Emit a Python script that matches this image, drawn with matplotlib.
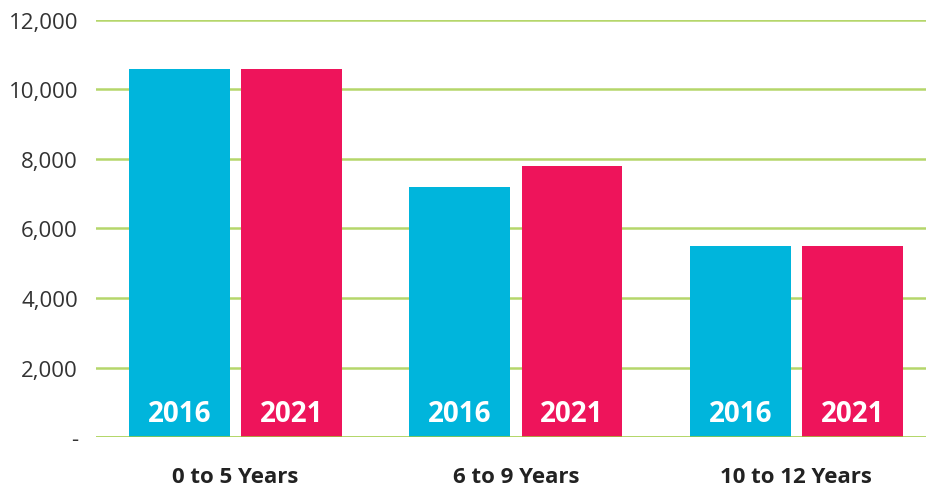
import matplotlib
matplotlib.use("Agg")
import matplotlib.pyplot as plt
import numpy as np

categories = ["0 to 5 Years", "6 to 9 Years", "10 to 12 Years"]
years = ["2016", "2021"]
values_2016 = [10580, 7190, 5490]
values_2021 = [10580, 7790, 5490]
yticks = [0, 2000, 4000, 6000, 8000, 10000, 12000]
ytick_labels = ["-", "2,000", "4,000", "6,000", "8,000", "10,000", "12,000"]

colors = ["#00B5DC", "#EE145B"]

plt.rcParams['font.family'] = ['Open Sans', 'DejaVu Sans']

fig = plt.figure(figsize=(9.26, 4.89), dpi=100)
ax = fig.add_axes([96/926, 1-438.3/489, 1-96/926, (438.3-20.5)/489])

x = np.arange(len(categories))
w = 0.36
off = 0.2
for i, (vals, yr) in enumerate(zip([values_2016, values_2021], years)):
    pos = x + (-off if i == 0 else off)
    ax.bar(pos, vals, width=w, color=colors[i], zorder=3)
    for p in pos:
        ax.text(p, 680, yr, ha="center", va="center", color="white",
                fontsize=20, fontweight="bold", zorder=4)

ax.set_xlim(-0.497, 2.462)
ax.set_ylim(0, 12000)
ax.set_yticks(yticks)
ax.set_yticklabels(ytick_labels, fontsize=16, color="#333333")
ax.set_xticks(x)
ax.set_xticklabels(categories, fontsize=16, fontweight="bold", color="#222222")
ax.tick_params(axis="y", length=0, pad=13)
ax.tick_params(axis="x", length=0, pad=21)
for s in ax.spines.values():
    s.set_visible(False)
for t in yticks[1:]:
    ax.axhline(t, color="#B5D66B", lw=1.8, zorder=1)
ax.axhline(0, color="#9CCB3A", lw=1.8, zorder=5)

fig.savefig("out.png", dpi=100)
